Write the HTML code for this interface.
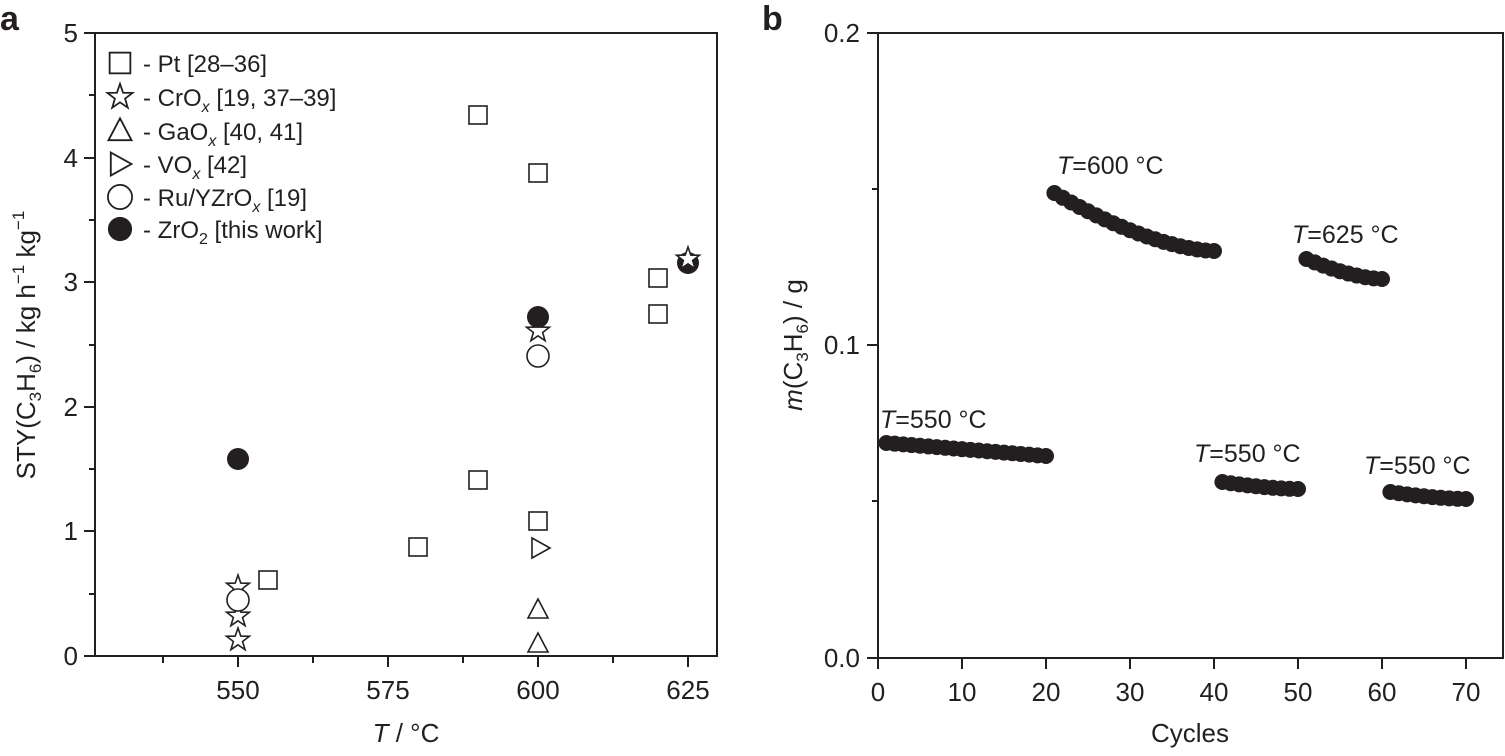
<!DOCTYPE html>
<html><head><meta charset="utf-8"><style>
body{margin:0;background:#fff}
svg text{font-family:"Liberation Sans",Arial,sans-serif;fill:#231f20}
</style></head><body>
<svg width="1505" height="751" viewBox="0 0 1505 751" xmlns="http://www.w3.org/2000/svg">
<defs>
<polygon id="star" points="0,-12 2.8,-3.9 11.4,-3.7 4.6,1.5 7.1,9.7 0,4.8 -7.1,9.7 -4.6,1.5 -11.4,-3.7 -2.8,-3.9" fill="#fff" stroke="#231f20" stroke-width="1.6"/>
<rect id="sq" x="-9" y="-9" width="18" height="18" fill="#fff" stroke="#231f20" stroke-width="1.6"/>
<polygon id="tri" points="0,-11 10,8 -10,8" fill="#fff" stroke="#231f20" stroke-width="1.6"/>
<polygon id="rtri" points="-8,-10 10,0 -8,10" fill="#fff" stroke="#231f20" stroke-width="1.6"/>
<circle id="oc" r="11" fill="#fff" stroke="#231f20" stroke-width="1.6"/>
<circle id="fc" r="11" fill="#231f20"/>
</defs>
<!-- Panel a -->
<text x="0" y="30" font-size="34" font-weight="bold">a</text>
<g stroke="#231f20" stroke-width="2" fill="none">
<rect x="95" y="33" width="622" height="623"/>
<path d="M84 33H95M84 158H95M84 282H95M84 407H95M84 531H95M84 656H95M89 95H95M89 220H95M89 345H95M89 469H95M89 594H95"/>
<path d="M238 656V667M388 656V667M538 656V667M688 656V667M163 656V663M313 656V663M463 656V663M613 656V663"/>
</g>
<g font-size="26" text-anchor="end">
<text x="78" y="42">5</text><text x="78" y="167">4</text><text x="78" y="291">3</text><text x="78" y="416">2</text><text x="78" y="540">1</text><text x="78" y="665">0</text>
</g>
<g font-size="26" text-anchor="middle">
<text x="238" y="699">550</text><text x="388" y="699">575</text><text x="538" y="699">600</text><text x="688" y="699">625</text>
<text x="406" y="742"><tspan font-style="italic">T</tspan> / °C</text>
</g>
<text transform="translate(35,345) rotate(-90)" font-size="26" text-anchor="middle">STY(C<tspan font-size="17" dy="6">3</tspan><tspan dy="-6">H</tspan><tspan font-size="17" dy="6">6</tspan><tspan dy="-6">) / kg h</tspan><tspan font-size="17" dy="-11">−1</tspan><tspan dy="11"> kg</tspan><tspan font-size="17" dy="-11">−1</tspan></text>
<!-- legend -->
<g transform="translate(120,63) scale(1.15)"><use href="#sq"/></g>
<g transform="translate(120,97) scale(1.1)"><use href="#star"/></g>
<g transform="translate(120,131) scale(1.15)"><use href="#tri"/></g>
<g transform="translate(120,164) scale(1.15)"><use href="#rtri"/></g>
<g transform="translate(120,197) scale(1.1)"><use href="#oc"/></g>
<g transform="translate(120,229) scale(1.1)"><use href="#fc"/></g>
<g font-size="24">
<text x="143" y="72">- Pt [28–36]</text>
<text x="143" y="106">- CrO<tspan font-size="16" font-style="italic" dy="6">x</tspan><tspan dy="-6"> [19, 37–39]</tspan></text>
<text x="143" y="140">- GaO<tspan font-size="16" font-style="italic" dy="6">x</tspan><tspan dy="-6"> [40, 41]</tspan></text>
<text x="143" y="173">- VO<tspan font-size="16" font-style="italic" dy="6">x</tspan><tspan dy="-6"> [42]</tspan></text>
<text x="143" y="206">- Ru/YZrO<tspan font-size="16" font-style="italic" dy="6">x</tspan><tspan dy="-6"> [19]</tspan></text>
<text x="143" y="238">- ZrO<tspan font-size="16" dy="6">2</tspan><tspan dy="-6"> [this work]</tspan></text>
</g>
<!-- data a -->
<use href="#sq" x="268" y="580"/><use href="#sq" x="418" y="547"/><use href="#sq" x="478" y="480"/><use href="#sq" x="478" y="115"/>
<use href="#sq" x="538" y="173"/><use href="#sq" x="538" y="521"/><use href="#sq" x="658" y="278"/><use href="#sq" x="658" y="314"/>
<use href="#star" x="238" y="587"/><use href="#star" x="238" y="616"/><use href="#star" x="238" y="640"/>
<use href="#tri" x="538" y="610"/><use href="#tri" x="538" y="644"/>
<use href="#rtri" x="540" y="548"/>
<use href="#oc" x="238" y="600"/><use href="#oc" x="538" y="356"/>
<use href="#star" x="538" y="331"/>
<use href="#fc" x="238" y="459"/><use href="#fc" x="538" y="317"/>
<use href="#fc" x="688" y="263"/><use href="#star" x="688" y="259"/>
<!-- Panel b -->
<text x="762" y="30" font-size="34" font-weight="bold">b</text>
<g stroke="#231f20" stroke-width="2" fill="none">
<rect x="878" y="33" width="625" height="625"/>
<path d="M867 33H878M867 345H878M867 658H878M872 189H878M872 501H878"/>
<path d="M878 658V669M962 658V669M1046 658V669M1130 658V669M1214 658V669M1298 658V669M1382 658V669M1466 658V669"/>
</g>
<g font-size="26" text-anchor="end">
<text x="860" y="42">0.2</text><text x="860" y="354">0.1</text><text x="860" y="667">0.0</text>
</g>
<g font-size="26" text-anchor="middle">
<text x="878" y="701">0</text><text x="962" y="701">10</text><text x="1046" y="701">20</text><text x="1130" y="701">30</text><text x="1214" y="701">40</text><text x="1298" y="701">50</text><text x="1382" y="701">60</text><text x="1466" y="701">70</text>
<text x="1190" y="742">Cycles</text>
</g>
<text transform="translate(802,345) rotate(-90)" font-size="26" text-anchor="middle"><tspan font-style="italic">m</tspan>(C<tspan font-size="17" dy="6">3</tspan><tspan dy="-6">H</tspan><tspan font-size="17" dy="6">6</tspan><tspan dy="-6">) / g</tspan></text>
<g font-size="25">
<text x="880" y="428"><tspan font-style="italic">T</tspan>=550 °C</text>
<text x="1057" y="174"><tspan font-style="italic">T</tspan>=600 °C</text>
<text x="1292" y="243"><tspan font-style="italic">T</tspan>=625 °C</text>
<text x="1194" y="462"><tspan font-style="italic">T</tspan>=550 °C</text>
<text x="1364" y="474"><tspan font-style="italic">T</tspan>=550 °C</text>
</g>
<g id="pts"></g>
</svg>
<script>
var g=document.getElementById('pts'),ns='http://www.w3.org/2000/svg';
function seg(c0,c1,y0,y1,curve){for(var c=c0;c<=c1;c++){var t=(c-c0)/(c1-c0);var f=curve?1-Math.pow(1-t,1.6):t;var y=y0+(y1-y0)*f;var e=document.createElementNS(ns,'circle');e.setAttribute('cx',878+8.4*c);e.setAttribute('cy',y);e.setAttribute('r',8);e.setAttribute('fill','#231f20');g.appendChild(e);}}
seg(1,20,443,456,false);seg(21,40,193,251,true);seg(41,50,482,489,true);seg(51,60,259,279,true);seg(61,70,492,499,true);
</script>
</body></html>
